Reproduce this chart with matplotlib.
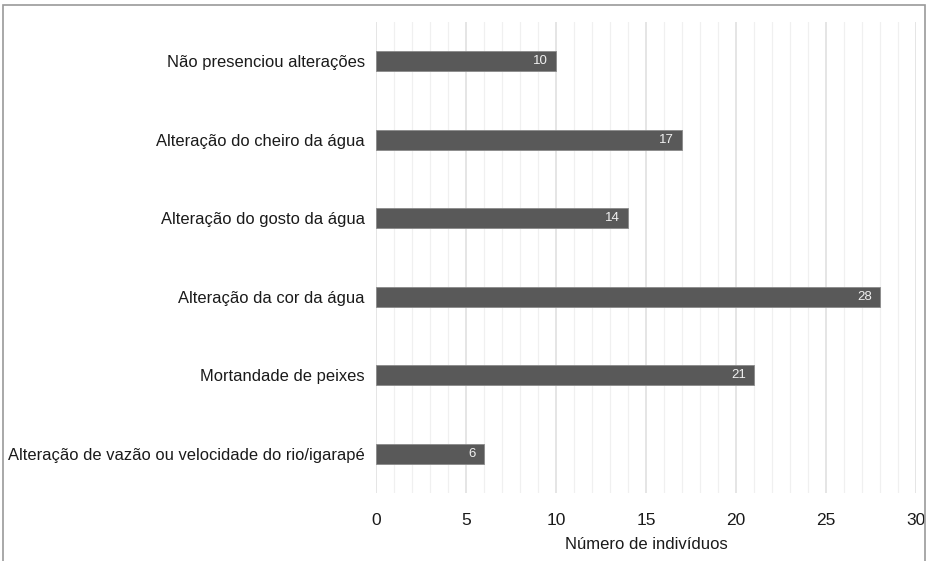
import matplotlib.pyplot as plt
from matplotlib.patches import Rectangle
from matplotlib.ticker import MultipleLocator

# respostas sobre alterações observadas no rio
categorias = [
    "Não presenciou alterações",
    "Alteração do cheiro da água",
    "Alteração do gosto da água",
    "Alteração da cor da água",
    "Mortandade de peixes",
    "Alteração de vazão ou velocidade do rio/igarapé",
]
valores = [10, 17, 14, 28, 21, 6]

plt.rcParams['font.family'] = ['Liberation Sans', 'DejaVu Sans']

fig = plt.figure(figsize=(9.28, 5.61), dpi=100)
ax = fig.add_axes([0.405, 0.121, 0.582, 0.840])

pos = list(range(len(categorias)))
barras = ax.barh(pos, valores, height=0.25, color='#595959',
                 edgecolor='#8a8a8a', linewidth=0.6, zorder=3)

for b, v in zip(barras, valores):
    ax.text(b.get_width() - 0.45, b.get_y() + b.get_height() / 2, str(v),
            ha='right', va='center', color='#f0f0f0', fontsize=9.5, zorder=4)

ax.set_yticks(pos)
ax.set_yticklabels(categorias, fontsize=11.9, color='#1a1a1a')
ax.set_ylim(len(categorias) - 0.5, -0.5)

ax.set_xlim(0, 30)
ax.xaxis.set_major_locator(MultipleLocator(5))
ax.xaxis.set_minor_locator(MultipleLocator(1))
ax.tick_params(axis='x', which='major', labelsize=12.5, length=0, pad=14, labelcolor='#1a1a1a')
ax.tick_params(axis='x', which='minor', length=0)
ax.tick_params(axis='y', length=0, pad=8)
ax.grid(axis='x', which='major', color='#e0e0e0', linewidth=1.2, zorder=0)
ax.grid(axis='x', which='minor', color='#f0f0f0', linewidth=0.9, zorder=0)
ax.set_xlabel("Número de indivíduos", fontsize=12, color='#1a1a1a', labelpad=7)

for s in ax.spines.values():
    s.set_visible(False)

# moldura em volta da figura
fig.patches.append(Rectangle((3 / 928, -0.05), 922 / 928, 1.05 - 5.5 / 561,
                             transform=fig.transFigure, fill=False,
                             edgecolor='#9a9a9a', linewidth=1.2))

fig.savefig('out.png', dpi=100)
